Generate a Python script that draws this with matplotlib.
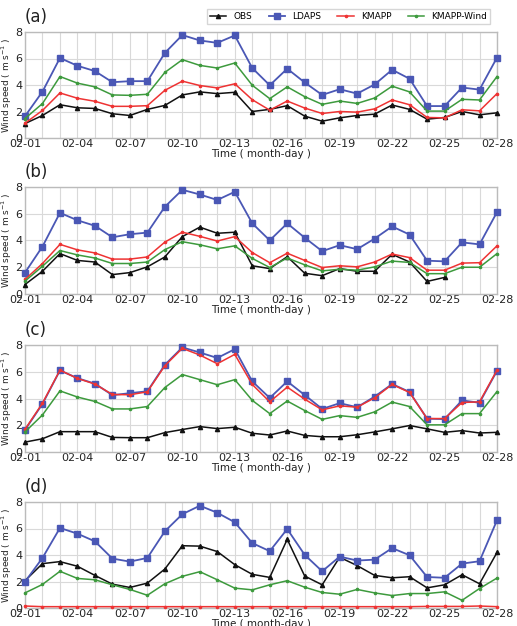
import numpy as np
import matplotlib
matplotlib.use("Agg")
import matplotlib.pyplot as plt

dates = [f"02-{d:02d}" for d in range(1, 29)]
tick_labels = dates[::3]
series_names = ["OBS", "LDAPS", "KMAPP", "KMAPP-Wind"]

# Panel (a)
a_obs = [1.09, 1.70, 2.51, 2.28, 2.23, 1.83, 1.70, 2.16, 2.46, 3.25, 3.48, 3.35, 3.45, 2.00,
         2.16, 2.44, 1.65, 1.27, 1.52, 1.70, 1.80, 2.49, 2.16, 1.42, 1.55, 2.00, 1.75, 1.90]
a_ldaps = [1.65, 3.50, 6.04, 5.45, 5.05, 4.21, 4.29, 4.29, 6.42, 7.77, 7.36, 7.18, 7.74, 5.28,
           3.98, 5.23, 4.19, 3.25, 3.68, 3.35, 4.04, 5.15, 4.47, 2.41, 2.41, 3.81, 3.65, 6.07]
a_kmapp = [1.12, 2.08, 3.40, 3.00, 2.77, 2.39, 2.39, 2.44, 3.60, 4.29, 3.96, 3.78, 4.09, 2.89,
           2.10, 2.79, 2.26, 1.85, 2.00, 1.95, 2.20, 2.87, 2.51, 1.55, 1.52, 2.13, 2.05, 3.35]
a_wind = [1.47, 2.60, 4.64, 4.14, 3.86, 3.25, 3.22, 3.30, 4.95, 5.91, 5.48, 5.28, 5.66, 3.98,
          2.97, 3.86, 3.12, 2.54, 2.79, 2.61, 3.02, 3.91, 3.48, 2.03, 2.03, 2.92, 2.87, 4.64]

# Panel (b)
b_obs = [0.71, 1.70, 3.02, 2.51, 2.39, 1.45, 1.60, 2.03, 2.77, 4.29, 5.00, 4.54, 4.62, 2.11,
         1.90, 2.79, 1.55, 1.37, 1.90, 1.70, 1.70, 2.97, 2.39, 0.94, 1.24, np.nan, np.nan, np.nan]
b_ldaps = [1.60, 3.55, 6.07, 5.51, 5.10, 4.24, 4.47, 4.59, 6.52, 7.79, 7.44, 7.03, 7.64, 5.28,
           4.01, 5.28, 4.21, 3.20, 3.65, 3.35, 4.14, 5.05, 4.44, 2.49, 2.44, 3.86, 3.71, 6.12]
b_kmapp = [1.09, 2.28, 3.71, 3.30, 3.07, 2.61, 2.61, 2.77, 3.88, 4.62, 4.31, 3.96, 4.29, 3.10,
           2.34, 3.05, 2.51, 1.98, 2.11, 2.03, 2.39, 2.99, 2.72, 1.78, 1.78, 2.31, 2.34, 3.60]
b_wind = [0.96, 2.08, 3.25, 2.92, 2.69, 2.28, 2.28, 2.39, 3.32, 3.91, 3.68, 3.38, 3.60, 2.66,
          1.98, 2.69, 2.18, 1.73, 1.85, 1.78, 2.03, 2.46, 2.36, 1.52, 1.52, 2.00, 2.00, 3.02]

# Panel (c)
c_obs = [0.74, 0.99, 1.52, 1.52, 1.52, 1.09, 1.07, 1.07, 1.45, 1.68, 1.90, 1.75, 1.85, 1.40,
         1.27, 1.57, 1.24, 1.14, 1.14, 1.29, 1.50, 1.73, 1.98, 1.73, 1.47, 1.60, 1.42, 1.47]
c_ldaps = [1.65, 3.60, 6.10, 5.52, 5.11, 4.25, 4.40, 4.54, 6.52, 7.82, 7.44, 7.03, 7.69, 5.28,
           4.04, 5.28, 4.26, 3.22, 3.65, 3.35, 4.14, 5.08, 4.49, 2.49, 2.46, 3.86, 3.68, 6.07]
c_kmapp = [1.70, 3.65, 6.12, 5.50, 5.08, 4.30, 4.28, 4.50, 6.45, 7.75, 7.25, 6.60, 7.30, 5.05,
           3.75, 4.85, 3.95, 3.15, 3.45, 3.35, 4.05, 5.05, 4.45, 2.50, 2.50, 3.70, 3.75, 6.12]
c_wind = [1.50, 2.77, 4.57, 4.11, 3.78, 3.22, 3.22, 3.40, 4.82, 5.79, 5.41, 5.03, 5.41, 3.86,
          2.87, 3.81, 3.10, 2.44, 2.72, 2.59, 3.00, 3.73, 3.40, 2.03, 2.03, 2.87, 2.87, 4.52]

# Panel (d)
d_obs = [2.06, 3.35, 3.50, 3.15, 2.46, 1.80, 1.55, 1.88, 2.94, 4.70, 4.67, 4.26, 3.27, 2.54,
         2.31, 5.18, 2.41, 1.75, 3.83, 3.20, 2.46, 2.28, 2.36, 1.52, 1.75, 2.51, 1.83, 4.19]
d_ldaps = [1.98, 3.78, 6.04, 5.61, 5.03, 3.73, 3.50, 3.78, 5.79, 7.08, 7.72, 7.19, 6.47, 4.90,
           4.29, 5.96, 4.01, 2.77, 3.88, 3.58, 3.65, 4.52, 3.98, 2.34, 2.28, 3.35, 3.53, 6.62]
d_kmapp = [0.15, 0.10, 0.10, 0.10, 0.10, 0.10, 0.10, 0.10, 0.10, 0.10, 0.10, 0.10, 0.10, 0.10,
           0.10, 0.10, 0.10, 0.10, 0.10, 0.10, 0.10, 0.10, 0.10, 0.12, 0.12, 0.12, 0.15, 0.10]
d_wind = [1.14, 1.78, 2.77, 2.23, 2.13, 1.75, 1.40, 0.96, 1.83, 2.39, 2.74, 2.13, 1.50, 1.37,
          1.75, 2.06, 1.57, 1.17, 1.04, 1.40, 1.14, 0.94, 1.09, 1.09, 1.22, 0.58, 1.47, 2.26]

panels = [
    ("(a)", a_obs, a_ldaps, a_kmapp, a_wind),
    ("(b)", b_obs, b_ldaps, b_kmapp, b_wind),
    ("(c)", c_obs, c_ldaps, c_kmapp, c_wind),
    ("(d)", d_obs, d_ldaps, d_kmapp, d_wind),
]

colors = ["#111111", "#4a57b5", "#ee3333", "#3d9a3d"]
markers = ["^", "s", ".", "."]
msizes = [3.0, 4.0, 3.2, 3.2]
lws = [1.1, 1.3, 1.1, 1.1]

W, H = 517, 626
fig = plt.figure(figsize=(W / 100, H / 100), dpi=100)

boxes = [(32, 138), (187, 294), (345, 452), (502, 608)]
left_px, right_px = 25, 497

x = np.arange(len(dates))
for (label, obs, ldaps, kmapp, wind), (top, bot) in zip(panels, boxes):
    ax = fig.add_axes([left_px / W, 1 - bot / H, (right_px - left_px) / W, (bot - top) / H])
    data = [obs, ldaps, kmapp, wind]
    handles = []
    for name, vals, c, m, ms, lw in zip(series_names, data, colors, markers, msizes, lws):
        h, = ax.plot(x, vals, color=c, marker=m, markersize=ms, linewidth=lw, label=name,
                     clip_on=False, zorder=3)
        handles.append(h)
    ax.set_xlim(0, 27)
    ax.set_ylim(0, 8)
    ax.set_yticks([0, 2, 4, 6, 8])
    ax.set_xticks(x[::3])
    ax.set_xticklabels(tick_labels)
    ax.set_xticks(x, minor=True)
    ax.grid(True, which="both", axis="x", color="#d9d9d9", linewidth=0.8)
    ax.grid(True, which="major", axis="y", color="#d9d9d9", linewidth=0.8)
    ax.tick_params(axis="both", which="both", length=0, labelsize=8, colors="#222222")
    ax.tick_params(axis="x", pad=1)
    ax.tick_params(axis="y", pad=2)
    for s in ax.spines.values():
        s.set_color("#bbbbbb")
        s.set_linewidth(1.0)
    ax.set_ylabel("Wind speed ( m s$^{-1}$ )", fontsize=6.5, color="#222222")
    ax.yaxis.set_label_coords(-0.023, 0.5)
    ax.set_xlabel("Time ( month-day )", fontsize=7.5, labelpad=0, color="#222222")
    ax.text(0.0, 1.06, label, transform=ax.transAxes, fontsize=12, ha="left", va="bottom",
            color="#222222")
    if label == "(a)":
        ax.legend(handles=handles, ncol=4, loc="lower right", bbox_to_anchor=(0.995, 1.03),
                  fontsize=6.5, frameon=True, fancybox=False, edgecolor="#cccccc",
                  handlelength=1.8, columnspacing=1.8, borderpad=0.35, handletextpad=0.8)

fig.savefig("out.png", dpi=100)
